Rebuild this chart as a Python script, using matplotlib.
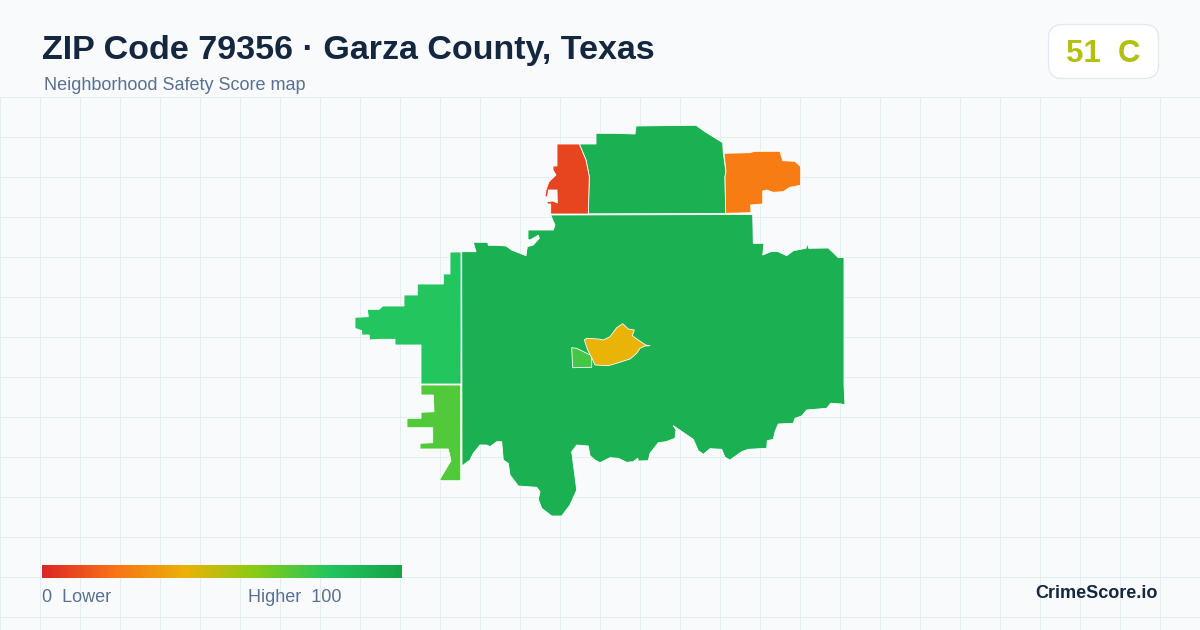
import matplotlib
matplotlib.use("Agg")
import matplotlib.pyplot as plt
import numpy as np
from matplotlib.colors import LinearSegmentedColormap
from matplotlib.patches import FancyBboxPatch, Polygon

title = "ZIP Code 79356 · Garza County, Texas"
subtitle = "Neighborhood Safety Score map"
score = 51
grade = "C"

# colour scale of the legend, position on 0-100 and colour
scale_stops = [0, 20, 40, 60, 80, 100]
scale_colors = ["#dc2626", "#f97316", "#eab308", "#84cc16", "#22c55e", "#16a34a"]

# area outlines, x/y in picture pixels
big_area = [(550.7, 215), (752.7, 214.5), (753.3, 243.3), (764, 243.3), (762.7, 255), (771.7, 251.3),
            (778.3, 251.7), (786.7, 255.7), (793.3, 250.7), (806, 248.3), (807.3, 243.3), (808.7, 248.3),
            (828.3, 248), (833.3, 252.7), (838.3, 257.7), (844, 257.3), (844, 385), (845, 405), (841.7, 404),
            (830.7, 403.3), (826.7, 408.3), (806.7, 410), (801.7, 416), (795, 418.3), (793.3, 423.3),
            (778.3, 424), (775, 431.7), (773.3, 439.3), (767.3, 440.7), (766.7, 448.3), (748.3, 449.3),
            (741.7, 451.7), (730, 460), (725, 457.3), (721.7, 449.3), (710, 448.7), (703.3, 454.3),
            (698.3, 450.7), (693.3, 439.3), (673.3, 425.7), (676, 430), (675, 438.3), (666, 441.7),
            (658.3, 442.7), (650, 453.3), (648.3, 460.7), (638.3, 461), (637.7, 458.3), (633.3, 461.7),
            (626.7, 462.3), (618.3, 458.3), (610, 457.7), (600, 462.7), (595, 460), (590, 455.7),
            (588.3, 446), (576.7, 445), (571.7, 451.7), (576.7, 490), (570, 505), (561.7, 516), (551.7, 516),
            (541.7, 508.3), (538.3, 499.3), (540, 491.7), (536.7, 487.3), (518.3, 486), (510, 475),
            (508.3, 463.3), (503.3, 460), (501.7, 441.7), (496.7, 441.7), (490, 446.7), (486.7, 445),
            (480, 445), (473.3, 453.3), (470, 460), (462, 466), (461.7, 251.7), (476, 251.7), (473.3, 242.3),
            (487.7, 242.3), (488.3, 245.3), (496.7, 245.3), (506, 246), (511.7, 250), (521.7, 254),
            (526, 255.7), (527.3, 246.7), (533.3, 245), (539.3, 238.3), (538.3, 235.3), (530, 240),
            (528, 239.3), (528, 230), (553.3, 230), (555, 225), (552.7, 220)]
north_area = [(579.3, 144), (596, 144), (596, 133.3), (614, 133.3), (635, 134), (636, 126), (691.7, 125.3),
              (696, 125.3), (705, 131.7), (722.7, 142.7), (723.3, 153.3), (726, 171.7), (725, 176.7),
              (725.7, 213.5), (588.3, 213.8), (589.3, 176.7), (586, 160)]
northwest_area = [(557, 144), (579.3, 144), (586, 160), (589.3, 176.7), (588.3, 214), (550.7, 214),
                  (550.7, 204), (547.3, 204), (547, 201.7), (553, 201), (557.3, 203), (557, 190),
                  (548.5, 190), (547.5, 197), (545, 196.7), (546, 190), (549, 181.7), (556, 175),
                  (553, 170), (553, 166), (557, 166)]
northeast_area = [(724, 153.3), (749.3, 152.7), (755, 151.3), (780, 151.3), (782.7, 160.7), (795, 161.3),
                  (800.7, 166.7), (800.7, 185.3), (790, 187.3), (783.3, 191.7), (773, 192.3), (766.7, 190),
                  (762.7, 191), (762.7, 204), (750.7, 205), (751, 212.7), (725.7, 213.3), (725, 176.7),
                  (726, 171.7)]
west_area = [(450, 252), (461, 252), (461, 384), (421, 384), (421, 345), (395, 345), (395, 339.3),
             (380.7, 339.3), (369.3, 340), (369.3, 335), (361.7, 335), (361.7, 330.7), (355, 328.3),
             (355, 317.3), (368.3, 316.7), (367.3, 309.3), (379.3, 309.3), (382.7, 306), (404, 306), (404, 295),
             (417.3, 295), (417.3, 284), (443.3, 284), (443.3, 274), (450, 274)]
southwest_area = [(421, 385), (460.7, 385), (460.7, 480.7), (440, 480.7), (440, 479), (451, 460.7), (448.3, 449),
                  (420, 449), (420, 443.3), (432.7, 442.7), (432.7, 427.7), (407, 427.7), (407, 418.3),
                  (421, 418.3), (421, 412.3), (434, 411.7), (433.3, 395), (421, 395)]
center_small_area = [(571.7, 347.7), (576.7, 348.3), (591.7, 355.7), (591.7, 367.3), (572.7, 367.7)]
center_area = [(584.3, 340), (586.7, 338.3), (598.3, 339), (603.3, 340), (610, 336.7), (616.7, 327.7),
               (622.7, 323.7), (628.3, 329), (634.3, 330), (632.3, 335.7), (638.3, 340), (645.7, 345),
               (650, 345.7), (645, 346), (640, 348.3), (636.7, 353.3), (630, 359), (613.3, 364.3),
               (608.3, 365.7), (595, 365), (591.7, 357.7), (587.7, 350)]

# estimated score of each area from its colour
area_outlines = [big_area, north_area, northwest_area, northeast_area, west_area,
                 southwest_area, center_small_area, center_area]
area_scores = [92, 92, 8, 23, 80, 70, 73, 40]

plt.rcParams["font.family"] = ["Liberation Sans", "DejaVu Sans"]

cmap = LinearSegmentedColormap.from_list(
    "safety", [(s / 100, c) for s, c in zip(scale_stops, scale_colors)]
)

fig = plt.figure(figsize=(12, 6.3), dpi=100, facecolor="#f8fafc")
ax = fig.add_axes([0, 0, 1, 1])
ax.set_facecolor("#f8fafc")
ax.axis("off")

# background grid, only below the header
for x in np.arange(0, 1200, 40):
    ax.plot([x, x], [97, 630], color="#e4edf2", lw=0.72, zorder=1)
for y in np.arange(97, 630, 40):
    ax.plot([0, 1200], [y, y], color="#e4edf2", lw=0.72, zorder=1)

for outline, area_score in zip(area_outlines, area_scores):
    ax.add_patch(Polygon(outline, closed=True, facecolor=cmap(area_score / 100),
                         edgecolor="white", lw=0.6, joinstyle="round", zorder=2))

ax.text(42, 50.5, title, fontsize=24.45, fontweight="bold", color="#14273f", va="center", ha="left")
ax.text(44, 86, subtitle, fontsize=12.96, color="#5a7091", va="center", ha="left")

# score badge
ax.add_patch(FancyBboxPatch((1048.5, 24.5), 110, 54, boxstyle="round,pad=0,rounding_size=14",
                            facecolor="white", edgecolor="#e2e8f0", lw=0.9, zorder=3))
ax.text(1103, 54, f"{score}  {grade}", fontsize=22.4, fontweight="bold", color=cmap(score / 100),
        va="center", ha="center", zorder=4)

# legend bar
gradient = np.linspace(0, 1, 360).reshape(1, -1)
ax.imshow(gradient, cmap=cmap, extent=(42, 402, 578, 565), aspect="auto", zorder=2)
ax.text(42, 598, "0  Lower", fontsize=12.96, color="#5a7091", va="center", ha="left")
ax.text(342, 598, "Higher  100", fontsize=12.96, color="#5a7091", va="center", ha="right")

ax.text(1158, 594, "CrimeScore.io", fontsize=13, fontweight="bold", color="#14273f", va="center", ha="right")

ax.set_xlim(0, 1200)
ax.set_ylim(630, 0)

fig.savefig("out.png", dpi=100, facecolor=fig.get_facecolor())
plt.close(fig)
